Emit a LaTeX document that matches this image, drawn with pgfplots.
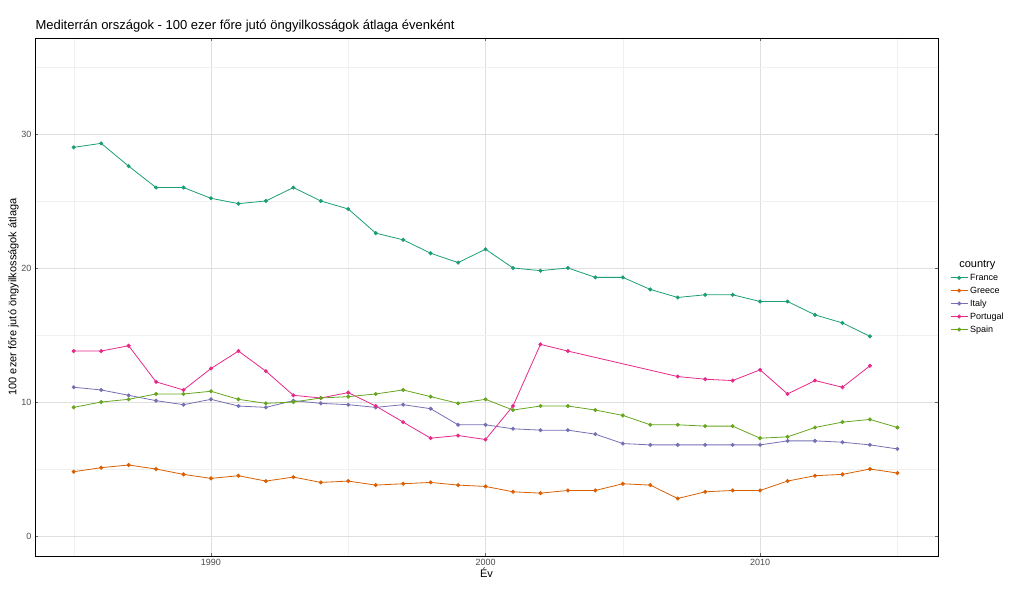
\documentclass[border=0pt]{standalone}
\usepackage{pgfplots}
\pgfplotsset{compat=1.18}
\usepackage{fontspec}
\setmainfont{Liberation Sans}
\definecolor{c1}{HTML}{1B9E77}
\definecolor{c2}{HTML}{D95F02}
\definecolor{c3}{HTML}{7570B3}
\definecolor{c4}{HTML}{E7298A}
\definecolor{c5}{HTML}{66A61E}
\begin{document}
\begin{tikzpicture}[x=1pt,y=1pt]
\begin{axis}[at={(0,0)},anchor=south west,scale only axis,width=903pt,height=518pt,
 xmin=1983.59,xmax=2016.48,ymin=-1.49,ymax=37.16,
 xtick={1990,2000,2010},ytick={0,10,20,30},minor xtick={1985,1995,2005,2015},minor ytick={5,15,25,35},
 xticklabel style={/pgf/number format/1000 sep={}},
 /pgf/number format/assume math mode=true,
 tick label style={font=\fontsize{9}{10}\selectfont,text=black!70},
 grid=both,major grid style={gray!25,line width=0.6pt},minor grid style={gray!12,line width=0.4pt},
 tick style={black!60},major tick length=3pt,minor tick length=0pt,
 axis line style={black,line width=0.6pt},
 xlabel={Év},ylabel={100 ezer főre jutó öngyilkosságok átlaga},
 label style={font=\fontsize{11}{12}\selectfont},
 xlabel style={yshift=5pt},ylabel style={yshift=-4pt},
 title={Mediterrán országok - 100 ezer főre jutó öngyilkosságok átlaga évenként},
 title style={font=\fontsize{13}{14}\selectfont,at={(0,1)},anchor=south west,xshift=-3pt,yshift=-4pt},
 legend style={at={(1.01,0.5)},anchor=west,draw=none,font=\fontsize{9}{10}\selectfont,row sep=1pt},
 legend cell align=left,
 every axis plot/.append style={line width=0.8pt,mark=*,mark size=1.6pt},
]
\addlegendimage{empty legend}\addlegendentry{\hspace{-1.2em}\fontsize{11}{12}\selectfont country}
\addplot[c1] coordinates {(1985,29.0)(1986,29.3)(1987,27.6)(1988,26.0)(1989,26.0)(1990,25.2)(1991,24.8)(1992,25.0)(1993,26.0)(1994,25.0)(1995,24.4)(1996,22.6)(1997,22.1)(1998,21.1)(1999,20.4)(2000,21.4)(2001,20.0)(2002,19.8)(2003,20.0)(2004,19.3)(2005,19.3)(2006,18.4)(2007,17.8)(2008,18.0)(2009,18.0)(2010,17.5)(2011,17.5)(2012,16.5)(2013,15.9)(2014,14.9)};
\addlegendentry{France}
\addplot[c2] coordinates {(1985,4.8)(1986,5.1)(1987,5.3)(1988,5.0)(1989,4.6)(1990,4.3)(1991,4.5)(1992,4.1)(1993,4.4)(1994,4.0)(1995,4.1)(1996,3.8)(1997,3.9)(1998,4.0)(1999,3.8)(2000,3.7)(2001,3.3)(2002,3.2)(2003,3.4)(2004,3.4)(2005,3.9)(2006,3.8)(2007,2.8)(2008,3.3)(2009,3.4)(2010,3.4)(2011,4.1)(2012,4.5)(2013,4.6)(2014,5.0)(2015,4.7)};
\addlegendentry{Greece}
\addplot[c3] coordinates {(1985,11.1)(1986,10.9)(1987,10.5)(1988,10.1)(1989,9.8)(1990,10.2)(1991,9.7)(1992,9.6)(1993,10.1)(1994,9.9)(1995,9.8)(1996,9.6)(1997,9.8)(1998,9.5)(1999,8.3)(2000,8.3)(2001,8.0)(2002,7.9)(2003,7.9)(2004,7.6)(2005,6.9)(2006,6.8)(2007,6.8)(2008,6.8)(2009,6.8)(2010,6.8)(2011,7.1)(2012,7.1)(2013,7.0)(2014,6.8)(2015,6.5)};
\addlegendentry{Italy}
\addplot[c4] coordinates {(1985,13.8)(1986,13.8)(1987,14.2)(1988,11.5)(1989,10.9)(1990,12.5)(1991,13.8)(1992,12.3)(1993,10.5)(1994,10.3)(1995,10.7)(1996,9.7)(1997,8.5)(1998,7.3)(1999,7.5)(2000,7.2)(2001,9.7)(2002,14.3)(2003,13.8)(2007,11.9)(2008,11.7)(2009,11.6)(2010,12.4)(2011,10.6)(2012,11.6)(2013,11.1)(2014,12.7)};
\addlegendentry{Portugal}
\addplot[c5] coordinates {(1985,9.6)(1986,10.0)(1987,10.2)(1988,10.6)(1989,10.6)(1990,10.8)(1991,10.2)(1992,9.9)(1993,10.0)(1994,10.3)(1995,10.4)(1996,10.6)(1997,10.9)(1998,10.4)(1999,9.9)(2000,10.2)(2001,9.4)(2002,9.7)(2003,9.7)(2004,9.4)(2005,9.0)(2006,8.3)(2007,8.3)(2008,8.2)(2009,8.2)(2010,7.3)(2011,7.4)(2012,8.1)(2013,8.5)(2014,8.7)(2015,8.1)};
\addlegendentry{Spain}
\end{axis}
\pgfresetboundingbox
\path[use as bounding box] (-35,-38) rectangle (989,556);
\end{tikzpicture}
\end{document}
